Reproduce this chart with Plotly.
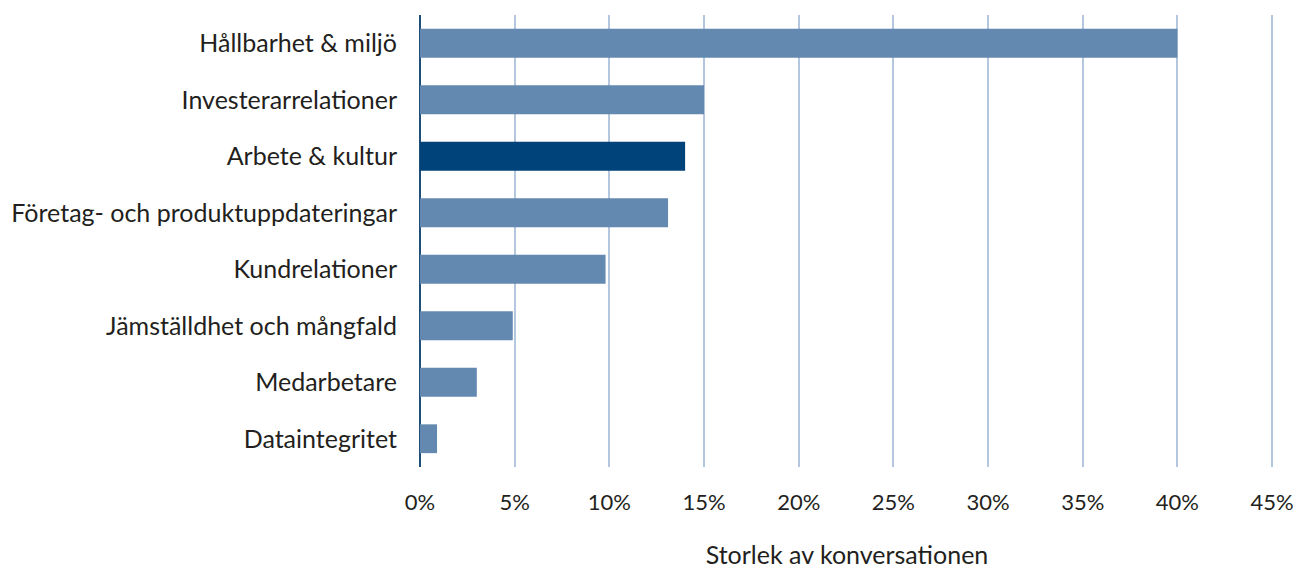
import plotly.graph_objects as go

categories = ["Hållbarhet & miljö", "Investerarrelationer", "Arbete & kultur",
              "Företag- och produktuppdateringar", "Kundrelationer",
              "Jämställdhet och mångfald", "Medarbetare", "Dataintegritet"]
values = [40, 15, 14, 13.1, 9.8, 4.9, 3.0, 0.9]
highlight = "Arbete & kultur"
tick_vals = [0, 5, 10, 15, 20, 25, 30, 35, 40, 45]
tick_text = [f"{v}%" for v in tick_vals]

colors = ["#00427a" if c == highlight else "#6389b1" for c in categories]

fig = go.Figure(go.Bar(
    y=categories, x=values, orientation="h",
    marker=dict(color=colors, line=dict(width=0)),
    hoverinfo="skip",
))

FONT = "Lato, 'Open Sans', sans-serif"
fig.update_layout(
    width=1296, height=569,
    margin=dict(l=420, r=22, t=15, b=102, autoexpand=False),
    paper_bgcolor="white", plot_bgcolor="white",
    bargap=0.49,
    showlegend=False,
    font=dict(family=FONT, size=25, color="#231f20"),
    xaxis=dict(
        range=[0, 45.1], tickvals=tick_vals, ticktext=tick_text,
        showgrid=True, gridcolor="#b4c7de", gridwidth=2,
        zeroline=True, zerolinecolor="#1f4e79", zerolinewidth=2,
        showline=False, ticks="", ticklabelstandoff=20,
        tickfont=dict(size=22), automargin=False,
        title=dict(text="Storlek av konversationen", font=dict(size=25), standoff=33),
    ),
    yaxis=dict(
        autorange="reversed", categoryorder="array", categoryarray=categories,
        showgrid=False, zeroline=False, showline=False, ticks="",
        ticklabelstandoff=22, automargin=False,
        tickfont=dict(size=25),
    ),
)

fig.write_html("out.html", config={"displayModeBar": False},
               post_script="document.body.style.margin='0';document.body.style.overflow='hidden';")
